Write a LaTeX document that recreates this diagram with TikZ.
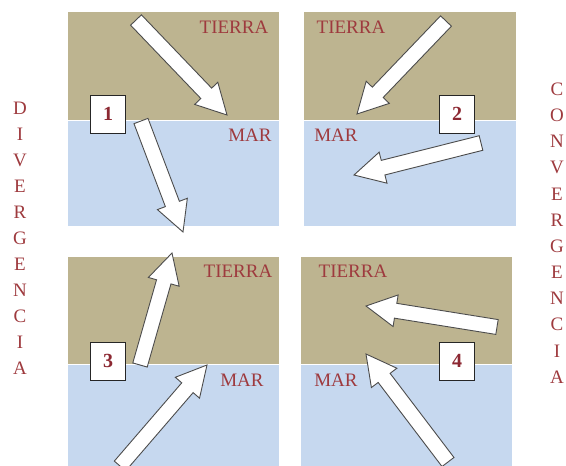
\documentclass[tikz,border=0pt]{standalone}
\usepackage{fontspec}
\setmainfont{Liberation Serif}
\usetikzlibrary{calc}

\definecolor{land}{RGB}{189,180,144}
\definecolor{sea}{RGB}{198,216,239}
\definecolor{labelred}{RGB}{158,58,62}
\definecolor{numred}{RGB}{140,40,50}

\tikzset{
  landfill/.style={fill=land, draw=none},
  seafill/.style={fill=sea, draw=none},
  coast/.style={draw=white, line width=0.8pt},
  zone/.style={text=labelred, font=\fontsize{19}{22}\selectfont, inner sep=0pt},
  vletter/.style={text=labelred, font=\fontsize{19}{22}\selectfont, inner sep=0pt},
  numbox/.style={draw=black!85, line width=0.9pt, fill=white,
    minimum width=35pt, minimum height=38pt, inner sep=0pt,
    text=numred, font=\fontsize{20}{22}\selectfont\bfseries},
  flowarrow/.style={fill=white, draw=black!70, line width=0.9pt, line join=miter},
}

% broad block arrow from tail #1 to tip #2
\newcommand{\wideArrow}[2]{%
  \coordinate (hb) at ($(#2)!30pt!(#1)$);
  \draw[flowarrow]
    ($(#1)!7.5pt!90:(#2)$) -- ($(hb)!7.5pt!-90:(#1)$) -- ($(hb)!16pt!-90:(#1)$)
    -- (#2) -- ($(hb)!16pt!90:(#1)$) -- ($(hb)!7.5pt!90:(#1)$)
    -- ($(#1)!7.5pt!-90:(#2)$) -- cycle;
}

\begin{document}
\begin{tikzpicture}[x=1pt,y=-1pt]
\useasboundingbox (0,0) rectangle (566,466);

% land and sea panels
\fill[landfill] (67.5,12) rectangle (279,120);
\fill[seafill]  (67.5,120) rectangle (279,226);
\fill[landfill] (304,12) rectangle (516,120);
\fill[seafill]  (304,120) rectangle (516,226);
\fill[landfill] (67.5,257) rectangle (279,364);
\fill[seafill]  (67.5,364) rectangle (279,466);
\fill[landfill] (301,257) rectangle (512,364);
\fill[seafill]  (301,364) rectangle (512,466);
\draw[coast] (67.5,120) -- (279,120);
\draw[coast] (304,120) -- (516,120);
\draw[coast] (67.5,364) -- (279,364);
\draw[coast] (301,364) -- (512,364);

% zone labels
\node[zone] (t1) at (234,27) {TIERRA};
\node[zone] (m1) at (250,135) {MAR};
\node[zone] (t2) at (351,27) {TIERRA};
\node[zone] (m2) at (336,135) {MAR};
\node[zone] (t3) at (238,271) {TIERRA};
\node[zone] (m3) at (242,380) {MAR};
\node[zone] (t4) at (353,271) {TIERRA};
\node[zone] (m4) at (336,380) {MAR};

% arrow ends
\coordinate (a1s) at (136,20);  \coordinate (a1e) at (227,115);
\coordinate (b1s) at (141,121); \coordinate (b1e) at (183,232);
\coordinate (a2s) at (446,21);  \coordinate (a2e) at (357,114);
\coordinate (b2s) at (481,143); \coordinate (b2e) at (354,175);
\coordinate (a3s) at (140,365); \coordinate (a3e) at (172,253);
\coordinate (b3s) at (120,466); \coordinate (b3e) at (207,365);
\coordinate (a4s) at (497,327); \coordinate (a4e) at (366,306);
\coordinate (b4s) at (448,462); \coordinate (b4e) at (366,354);

\wideArrow{a1s}{a1e}
\wideArrow{b1s}{b1e}
\wideArrow{a2s}{a2e}
\wideArrow{b2s}{b2e}
\wideArrow{a3s}{a3e}
\wideArrow{b3s}{b3e}
\wideArrow{a4s}{a4e}
\wideArrow{b4s}{b4e}

% case numbers
\node[numbox] (n1) at (108,114) {1};
\node[numbox] (n2) at (457,114) {2};
\node[numbox] (n3) at (108,361) {3};
\node[numbox] (n4) at (457,361) {4};

% vertical captions
\foreach \ch [count=\i from 0] in {D,I,V,E,R,G,E,N,C,I,A}
  \node[vletter] (dv\i) at (20,108+26*\i) {\ch};
\foreach \ch [count=\i from 0] in {C,O,N,V,E,R,G,E,N,C,I,A}
  \node[vletter] (cv\i) at (557,89+26.2*\i) {\ch};
\end{tikzpicture}
\end{document}
